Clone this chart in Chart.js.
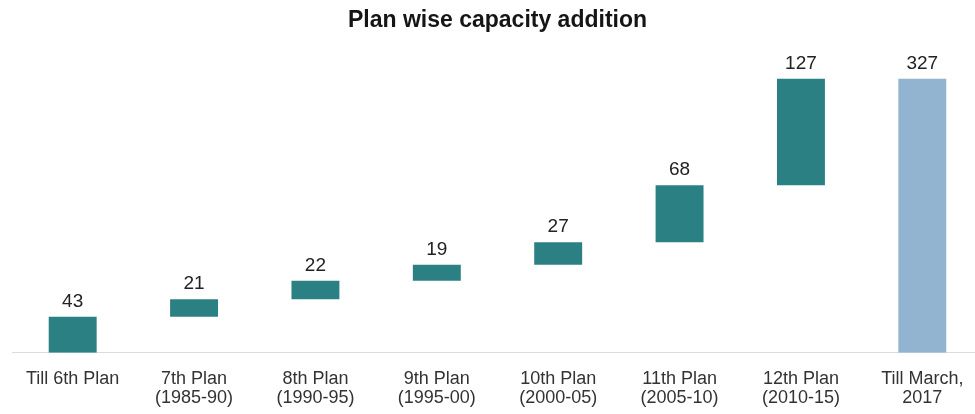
<!DOCTYPE html>
<html>
<head>
<meta charset="utf-8">
<script src="https://cdn.jsdelivr.net/npm/chart.js@4/dist/chart.umd.min.js"></script>
<style>
html,body{margin:0;padding:0;background:#fff;overflow:hidden;}
#wrap{width:983px;height:414px;position:relative;}
</style>
</head>
<body>
<div id="wrap"><canvas id="c"></canvas></div>
<script>
const categories = [
  ["Till 6th Plan"],
  ["7th Plan", "(1985-90)"],
  ["8th Plan", "(1990-95)"],
  ["9th Plan", "(1995-00)"],
  ["10th Plan", "(2000-05)"],
  ["11th Plan", "(2005-10)"],
  ["12th Plan", "(2010-15)"],
  ["Till March,", "2017"]
];
const increments = [43, 21, 22, 19, 27, 68, 127];
const total = 327;

// build floating ranges
const ranges = [];
const labelsVals = [];
let run = 0;
increments.forEach(v => { ranges.push([run, run + v]); run += v; labelsVals.push(v); });
ranges.push([0, total]);
labelsVals.push(total);
const colors = increments.map(() => '#2b8083').concat(['#93b4d0']);

const FONT = '"Liberation Sans", Arial, sans-serif';

const valueLabels = {
  id: 'valueLabels',
  afterDatasetsDraw(chart) {
    const ctx = chart.ctx;
    const meta = chart.getDatasetMeta(0);
    ctx.save();
    ctx.font = '19px ' + FONT;
    ctx.fillStyle = '#222';
    ctx.textAlign = 'center';
    ctx.textBaseline = 'alphabetic';
    meta.data.forEach((bar, i) => {
      const top = Math.min(bar.y, bar.base);
      ctx.fillText(String(labelsVals[i]), bar.x, top - 10);
    });
    ctx.restore();
  }
};

new Chart(document.getElementById('c'), {
  type: 'bar',
  data: {
    labels: categories,
    datasets: [{
      data: ranges,
      backgroundColor: colors,
      borderSkipped: false,
      borderWidth: 0,
      categoryPercentage: 1,
      barPercentage: 0.395
    }]
  },
  options: {
    responsive: true,
    maintainAspectRatio: false,
    animation: false,
    layout: { padding: { left: 12, right: 0, top: 0, bottom: 0 } },
    plugins: {
      legend: { display: false },
      tooltip: { enabled: false },
      title: {
        display: true,
        text: 'Plan wise capacity addition',
        color: '#151515',
        font: { family: FONT, size: 23, weight: 'bold', lineHeight: 1.2 },
        padding: { top: 7, bottom: 8 }
      }
    },
    scales: {
      x: {
        grid: { display: false, drawTicks: false },
        border: { display: true, color: '#dcdcdc', width: 1 },
        ticks: {
          color: '#333',
          font: { family: FONT, size: 18, lineHeight: 1.06 },
          padding: 17,
          maxRotation: 0,
          autoSkip: false
        },
        afterFit(scale) { scale.height -= 11; }
      },
      y: {
        display: false,
        min: 0,
        max: 370
      }
    }
  },
  plugins: [valueLabels]
});
</script>
</body>
</html>
